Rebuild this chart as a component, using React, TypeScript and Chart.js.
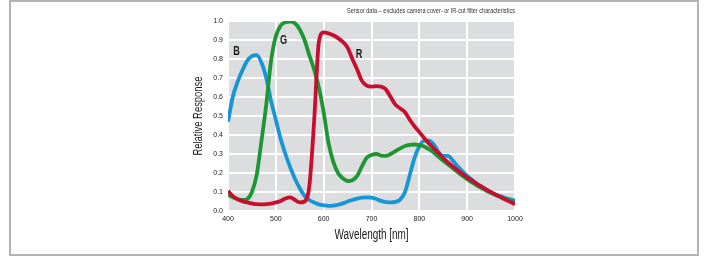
import { useEffect, useRef } from "react";
import { Chart, registerables } from "chart.js";

Chart.register(...registerables);

const wavelengths = [
  400, 410, 420, 430, 440, 450, 460, 470, 480, 490,
  500, 510, 520, 530, 540, 550, 560, 570, 580, 590,
  600, 610, 620, 630, 640, 650, 660, 670, 680, 690,
  700, 710, 720, 730, 740, 750, 760, 770, 780, 790,
  800, 810, 820, 830, 840, 850, 860, 870, 880, 890,
  900, 910, 920, 930, 940, 950, 960, 970, 980, 990, 1000,
];

const blueResponse = [
  0.47, 0.60, 0.68, 0.74, 0.79, 0.815, 0.82, 0.78, 0.70, 0.58,
  0.48, 0.38, 0.30, 0.23, 0.17, 0.12, 0.08, 0.058, 0.045, 0.035,
  0.03, 0.027, 0.028, 0.033, 0.04, 0.05, 0.058, 0.065, 0.07, 0.072,
  0.07, 0.063, 0.053, 0.047, 0.045, 0.048, 0.06, 0.10, 0.19, 0.28,
  0.34, 0.37, 0.37, 0.35, 0.31, 0.29, 0.29, 0.265, 0.235, 0.21,
  0.185, 0.165, 0.145, 0.128, 0.112, 0.098, 0.087, 0.077, 0.068, 0.061, 0.055,
];

const greenResponse = [
  0.085, 0.072, 0.062, 0.058, 0.063, 0.10, 0.19, 0.37, 0.56, 0.79,
  0.92, 0.975, 0.993, 0.997, 0.988, 0.955, 0.90, 0.82, 0.745, 0.65,
  0.52, 0.36, 0.26, 0.20, 0.172, 0.158, 0.162, 0.185, 0.235, 0.28,
  0.295, 0.30, 0.292, 0.29, 0.30, 0.315, 0.33, 0.342, 0.348, 0.35,
  0.347, 0.34, 0.325, 0.308, 0.285, 0.265, 0.245, 0.225, 0.205, 0.185,
  0.167, 0.15, 0.135, 0.12, 0.106, 0.094, 0.083, 0.073, 0.063, 0.054, 0.045,
];

const redResponse = [
  0.105, 0.078, 0.062, 0.052, 0.045, 0.04, 0.036, 0.035, 0.036, 0.039,
  0.045, 0.053, 0.066, 0.072, 0.058, 0.045, 0.05, 0.13, 0.47, 0.89,
  0.94, 0.935, 0.925, 0.91, 0.89, 0.86, 0.80, 0.745, 0.685, 0.66,
  0.655, 0.657, 0.655, 0.64, 0.60, 0.56, 0.54, 0.52, 0.48, 0.445,
  0.415, 0.385, 0.355, 0.33, 0.305, 0.278, 0.255, 0.234, 0.214, 0.195,
  0.177, 0.16, 0.143, 0.128, 0.113, 0.099, 0.086, 0.073, 0.06, 0.048, 0.035,
];

const xTickValues = [400, 500, 600, 700, 800, 900, 1000];
const yTickValues = [0, 0.1, 0.2, 0.3, 0.4, 0.5, 0.6, 0.7, 0.8, 0.9, 1.0];

const curveLabelText = ["B", "G", "R"];
const curveLabelWavelength = [418, 516, 674];
const curveLabelResponse = [0.84, 0.896, 0.823];

const noteText = "Sensor data – excludes camera cover- or IR-cut filter characteristics";
const xTitle = "Wavelength [nm]";
const yTitle = "Relative Response";

const FONT = "'Liberation Sans', Arial, sans-serif";
const BLUE = "rgb(22,150,214)";
const GREEN = "rgb(30,150,52)";
const RED = "rgb(200,14,46)";

// draw text squeezed horizontally to mimic the condensed typeface of the original
function condensedText(ctx: any, text: string, x: number, y: number, font: string, sx: number, align: string, rot = 0) {
  ctx.save();
  ctx.translate(x, y);
  if (rot) ctx.rotate(rot);
  ctx.scale(sx, 1);
  ctx.font = `${font} ${FONT}`;
  ctx.textAlign = align;
  ctx.textBaseline = "middle";
  ctx.fillText(text, 0, 0);
  ctx.restore();
}

const decorPlugin = {
  id: "decor",
  beforeDraw(chart: any) {
    const { ctx, chartArea } = chart;
    ctx.save();
    ctx.fillStyle = "#dcddde";
    ctx.fillRect(chartArea.left, chartArea.top, chartArea.right - chartArea.left, chartArea.bottom - chartArea.top);
    ctx.restore();
  },
  afterDatasetsDraw(chart: any) {
    const { ctx, chartArea, scales } = chart;
    ctx.save();
    ctx.fillStyle = "#1a1a1a";
    curveLabelText.forEach((t, i) => {
      condensedText(
        ctx,
        t,
        scales.x.getPixelForValue(curveLabelWavelength[i]),
        scales.y.getPixelForValue(curveLabelResponse[i]),
        "bold 13.5px",
        0.68,
        "center"
      );
    });
    const cx = (chartArea.left + chartArea.right) / 2;
    const cy = (chartArea.top + chartArea.bottom) / 2;
    condensedText(ctx, xTitle, cx, chartArea.bottom + 24, "14px", 0.71, "center");
    condensedText(ctx, yTitle, chartArea.left - 29.5, cy, "12px", 0.785, "center", -Math.PI / 2);
    ctx.fillStyle = "#333";
    condensedText(ctx, noteText, chartArea.right, chartArea.top - 10, "6.5px", 0.86, "right");
    ctx.restore();
  },
};

export default function App() {
  const canvasRef = useRef<HTMLCanvasElement | null>(null);

  useEffect(() => {
    if (!canvasRef.current) return;
    const mk = (vals: number[]) => wavelengths.map((w, i) => ({ x: w, y: vals[i] }));
    const common = {
      fill: false,
      borderWidth: 3.8,
      pointRadius: 0,
      cubicInterpolationMode: "monotone" as const,
    };
    const chart = new Chart(canvasRef.current, {
      type: "line",
      data: {
        datasets: [
          { ...common, label: "R", data: mk(redResponse), borderColor: RED, order: 1 },
          { ...common, label: "G", data: mk(greenResponse), borderColor: GREEN, order: 2 },
          { ...common, label: "B", data: mk(blueResponse), borderColor: BLUE, order: 3 },
        ],
      },
      options: {
        animation: false,
        responsive: false,
        devicePixelRatio: 1,
        layout: { padding: { left: 188, right: 191, top: 21, bottom: 0 } },
        plugins: { legend: { display: false }, tooltip: { enabled: false }, title: { display: false } },
        scales: {
          x: {
            type: "linear",
            min: 400,
            max: 1000,
            afterBuildTicks: (s: any) => {
              s.ticks = xTickValues.map((v) => ({ value: v }));
            },
            afterFit: (s: any) => {
              s.height = 45;
            },
            ticks: {
              autoSkip: false,
              maxRotation: 0,
              padding: 4,
              color: "#222",
              font: { family: FONT, size: 7 },
              callback: (v: any) => String(v),
            },
            grid: { color: "#ffffff", lineWidth: 2, drawTicks: false },
            border: { display: false },
          },
          y: {
            min: 0,
            max: 1,
            afterBuildTicks: (s: any) => {
              s.ticks = yTickValues.map((v) => ({ value: v }));
            },
            afterFit: (s: any) => {
              s.width = 40;
            },
            ticks: {
              padding: 5,
              color: "#222",
              font: { family: FONT, size: 7 },
              callback: (v: any) => Number(v).toFixed(1),
            },
            grid: { color: "#ffffff", lineWidth: 2, drawTicks: false },
            border: { display: false },
          },
        },
      },
      plugins: [decorPlugin],
    } as any);
    return () => chart.destroy();
  }, []);

  return (
    <div style={{ position: "absolute", left: 0, top: 0, width: 706, height: 256, background: "#fff" }}>
      <div
        style={{
          position: "absolute",
          left: 9,
          top: 0,
          width: 690,
          height: 256,
          boxSizing: "border-box",
          border: "2px solid #b3b3b3",
        }}
      />
      <canvas ref={canvasRef} width={706} height={256} style={{ position: "absolute", left: 0, top: 0 }} />
    </div>
  );
}
